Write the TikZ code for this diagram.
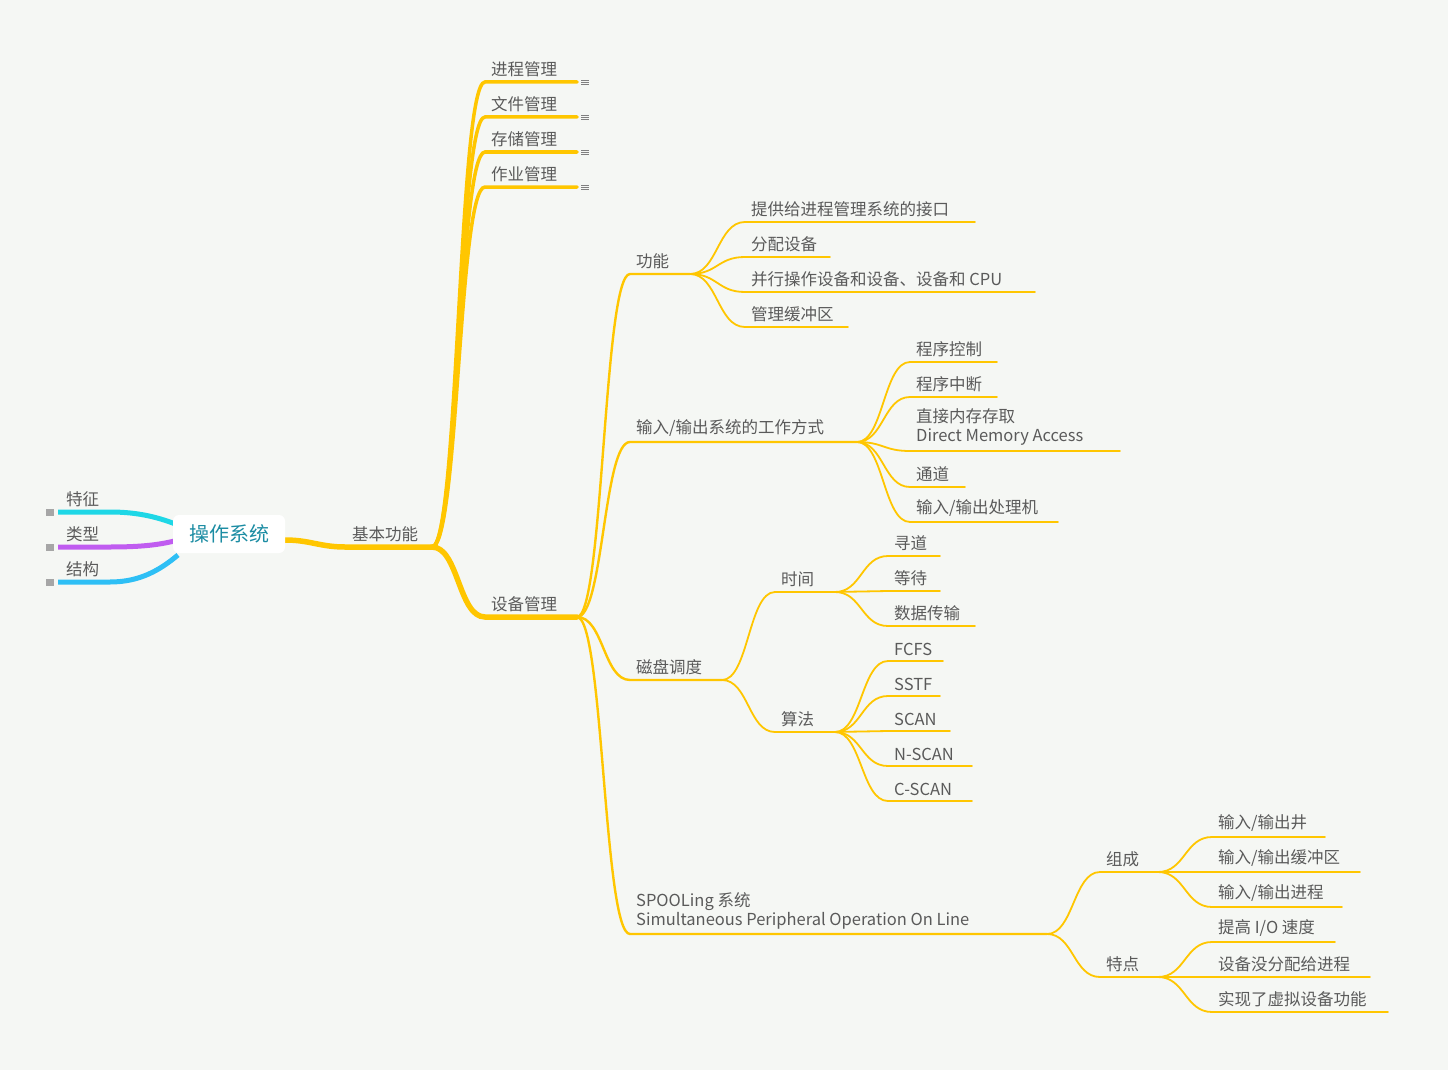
\documentclass[tikz,border=0pt]{standalone}
\usepackage{fontspec}
\setmainfont{Noto Sans CJK SC}
\usetikzlibrary{calc}
\definecolor{bg}{HTML}{F5F7F4}
\definecolor{yl}{HTML}{FFC600}
\definecolor{tx}{HTML}{5A5A5A}
\definecolor{rootc}{HTML}{1B8CA3}
\definecolor{cy1}{HTML}{1ED7E6}
\definecolor{pu1}{HTML}{C05CF0}
\definecolor{bl1}{HTML}{2EBFF5}
\tikzset{lbl/.style={text=tx,font=\fontsize{16.5}{19}\selectfont,inner sep=0pt,anchor=south west,align=left},
 wa/.style={draw=yl,line width=5.5pt,line cap=round},
 wb/.style={draw=yl,line width=3.5pt,line cap=round},
 wc/.style={draw=yl,line width=2.4pt,line cap=round},
 wd/.style={draw=yl,line width=1.8pt,line cap=round}}
\newcommand\mbr[7]{% style, parent, name, sx, ex, y, text
 \coordinate (#3-s) at (#4,#6); \coordinate (#3-e) at (#5,#6);
 \draw[#1] let \p1=(#2-e), \p2=(#3-s) in (#2-e) .. controls ({0.5*\x1+0.5*\x2},\y1) and ({0.5*\x1+0.5*\x2},\y2) .. (#3-s) -- (#3-e);
 \node[lbl] (#3) at ($(#3-s)+(6,-5)$) {#7};}
\newcommand\menuic[1]{\foreach \d in {-2,0,2}{\draw[gray,line width=0.8pt] ($(#1-e)+(4,\d)$) -- ($(#1-e)+(12,\d)$);}}
\begin{document}
\begin{tikzpicture}[x=1pt,y=-1pt]
\useasboundingbox[fill=bg] (0,0) rectangle (1448,1070);
% root
\coordinate (root-e) at (285,540);
\draw[wa] (root-e) .. controls (310,540) and (320,547) .. (345,547) coordinate (jb-s) -- (432,547) coordinate (jb-e);
\node[lbl] (jb) at (352,542) {基本功能};
\draw[line width=5pt,cy1] (58,512) coordinate (tz-s) -- (110,512) .. controls (140,512) and (160,518) .. (178,525);
\draw[line width=5pt,pu1] (58,547) coordinate (lx-s) -- (110,547) .. controls (140,547) and (160,545) .. (178,540);
\draw[line width=5pt,bl1] (58,582) coordinate (jg-s) -- (110,582) .. controls (140,582) and (160,570) .. (178,555);
\foreach \n in {tz,lx,jg}{\fill[gray!70] ($(\n-s)+(-12,-3)$) rectangle ($(\n-s)+(-4,4)$);}
\node[lbl] at (66,507) {特征};
\node[lbl] at (66,542) {类型};
\node[lbl] at (66,577) {结构};
\node[fill=white,rounded corners=6pt,minimum width=112pt,minimum height=38pt,text=rootc,font=\fontsize{20}{24}\selectfont] (root) at (229,534) {操作系统};
% level 2
\mbr{wb}{jb}{jc}{485}{577}{82}{进程管理}
\mbr{wb}{jb}{wj}{485}{577}{117}{文件管理}
\mbr{wb}{jb}{cc}{485}{577}{152}{存储管理}
\mbr{wb}{jb}{zy}{485}{577}{187}{作业管理}
\foreach \n in {jc,wj,cc,zy}{\menuic{\n}}
\mbr{wa}{jb}{sb}{485}{577}{617}{设备管理}
% level 3
\mbr{wc}{sb}{gn}{630}{690}{274}{功能}
\mbr{wc}{sb}{io}{630}{857}{442}{输入/输出系统的工作方式}
\mbr{wc}{sb}{cp}{630}{722}{680}{磁盘调度}
\mbr{wc}{sb}{sp}{630}{1047}{934}{SPOOLing 系统\\Simultaneous Peripheral Operation On Line}
% 功能
\mbr{wd}{gn}{a1}{745}{975}{222}{提供给进程管理系统的接口}
\mbr{wd}{gn}{a2}{745}{830}{257}{分配设备}
\mbr{wd}{gn}{a3}{745}{1035}{292}{并行操作设备和设备、设备和 CPU}
\mbr{wd}{gn}{a4}{745}{848}{327}{管理缓冲区}
% io
\mbr{wd}{io}{b1}{910}{997}{362}{程序控制}
\mbr{wd}{io}{b2}{910}{997}{397}{程序中断}
\mbr{wd}{io}{b3}{910}{1120}{451}{直接内存存取\\Direct Memory Access}
\mbr{wd}{io}{b4}{910}{965}{487}{通道}
\mbr{wd}{io}{b5}{910}{1058}{522}{输入/输出处理机}
% 磁盘
\mbr{wd}{cp}{sj}{775}{835}{592}{时间}
\mbr{wd}{cp}{sf}{775}{835}{732}{算法}
\mbr{wd}{sj}{c1}{888}{940}{556}{寻道}
\mbr{wd}{sj}{c2}{888}{940}{591}{等待}
\mbr{wd}{sj}{c3}{888}{975}{626}{数据传输}
\mbr{wd}{sf}{d1}{888}{943}{661}{FCFS}
\mbr{wd}{sf}{d2}{888}{940}{696}{SSTF}
\mbr{wd}{sf}{d3}{888}{950}{731}{SCAN}
\mbr{wd}{sf}{d4}{888}{972}{766}{N-SCAN}
\mbr{wd}{sf}{d5}{888}{972}{801}{C-SCAN}
% spooling
\mbr{wd}{sp}{zc}{1100}{1158}{872}{组成}
\mbr{wd}{sp}{td}{1100}{1158}{977}{特点}
\mbr{wd}{zc}{e1}{1212}{1325}{837}{输入/输出井}
\mbr{wd}{zc}{e2}{1212}{1360}{872}{输入/输出缓冲区}
\mbr{wd}{zc}{e3}{1212}{1342}{907}{输入/输出进程}
\mbr{wd}{td}{f1}{1212}{1335}{942}{提高 I/O 速度}
\mbr{wd}{td}{f2}{1212}{1370}{977}{设备没分配给进程}
\mbr{wd}{td}{f3}{1212}{1388}{1012}{实现了虚拟设备功能}
\end{tikzpicture}
\end{document}
